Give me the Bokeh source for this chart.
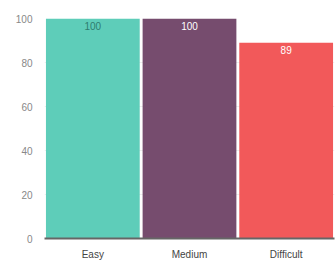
from bokeh.plotting import figure
from bokeh.models import ColumnDataSource, LabelSet, FixedTicker
from bokeh.core.properties import value
from bokeh.embed import file_html
from bokeh.resources import INLINE

categories = ["Easy", "Medium", "Difficult"]
values = [100, 100, 89]
colors = ["#5ECDB9", "#764C6E", "#F2595A"]
label_colors = ["#2E7D70", "#FFFFFF", "#FFFFFF"]
labels = [str(v) for v in values]

src = ColumnDataSource(dict(cat=categories, val=values, color=colors,
                            lab=labels, lab_color=label_colors))

p = figure(x_range=categories, y_range=(0, 100), output_backend="svg",
           toolbar_location=None, frame_width=290, frame_height=220,
           min_border_left=44, min_border_right=2, min_border_top=18,
           min_border_bottom=20)
p.outline_line_color = None
p.vbar(x="cat", top="val", width=0.97, color="color", source=src, line_color=None)

lbl = LabelSet(x="cat", y="val", text="lab", source=src, text_color="lab_color",
               text_align="center", text_baseline="top", y_offset=-3,
               text_font_size="10px", text_font=value("Liberation Sans"))
p.add_layout(lbl)

p.xgrid.grid_line_color = None
p.ygrid.grid_line_color = "#EEEEEE"
p.yaxis.ticker = FixedTicker(ticks=[0, 20, 40, 60, 80, 100])
p.yaxis.axis_line_color = None
p.yaxis.major_tick_line_color = None
p.yaxis.minor_tick_line_color = None
p.yaxis.major_label_text_color = "#888888"
p.yaxis.major_label_text_font_size = "10px"
p.yaxis.major_label_text_font = "Liberation Sans"
p.yaxis.major_label_standoff = 6

p.xaxis.axis_line_color = "#666666"
p.xaxis.axis_line_width = 2
p.xaxis.major_tick_line_color = None
p.xaxis.minor_tick_line_color = None
p.xaxis.major_label_text_color = "#444444"
p.xaxis.major_label_text_font_size = "10px"
p.xaxis.major_label_text_font = "Liberation Sans"
p.xaxis.major_label_standoff = 4

open("out.html", "w").write(file_html(p, INLINE))
